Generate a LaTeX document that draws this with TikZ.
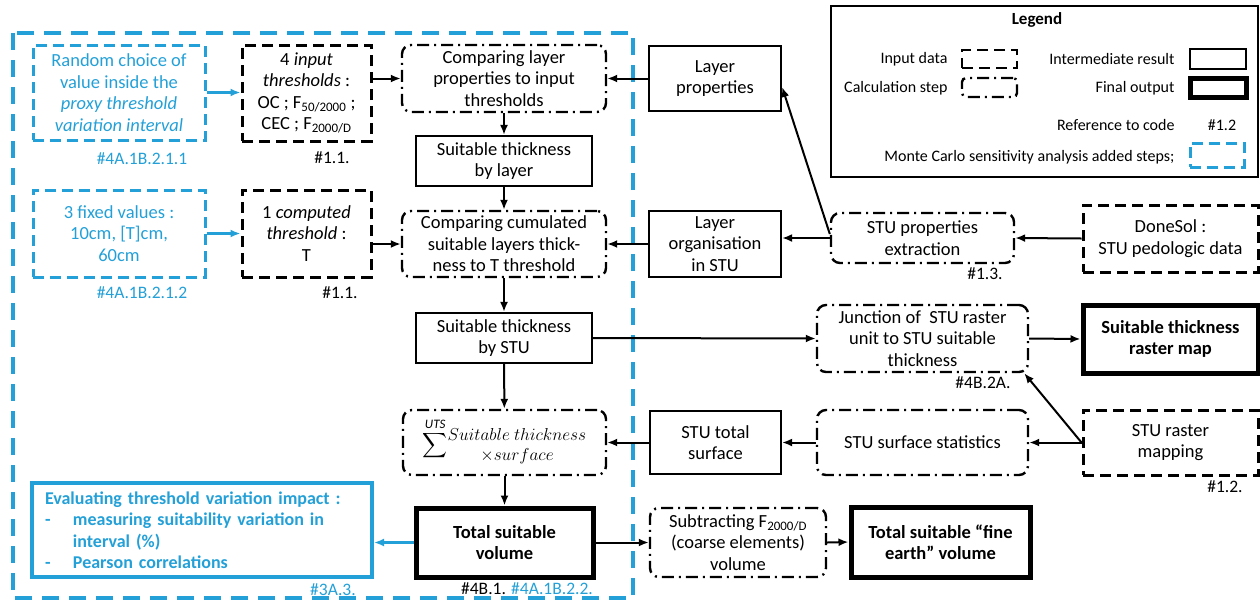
\documentclass[tikz,border=0pt]{standalone}
\usepackage{exscale}
\usepackage{fontspec}
\setmainfont{Carlito}
\usetikzlibrary{arrows.meta, calc, positioning}
\definecolor{mcblue}{RGB}{35,160,215}

\begin{document}
\begin{tikzpicture}[x=1pt, y=-1pt, >={Latex[length=10pt,width=8pt]},
    font=\fontsize{18.5}{21.5}\selectfont,
    box/.style={align=center, inner sep=2pt},
    input data/.style={box, draw, line width=3pt, dash pattern=on 11pt off 6pt},
    calc step/.style={box, draw, line width=2.4pt, rounded corners=9pt,
      dash pattern=on 12pt off 5pt on 2pt off 5pt},
    inter res/.style={box, draw, line width=2.2pt},
    final out/.style={box, draw, line width=5pt, font=\fontsize{18.5}{21.5}\selectfont\bfseries},
    mc data/.style={input data, draw=mcblue, text=mcblue},
    code ref/.style={font=\fontsize{17.5}{20}\selectfont},
    legend txt/.style={font=\fontsize{16}{19}\selectfont},
    conn/.style={->, line width=2pt},
    mc conn/.style={->, line width=2.4pt, mcblue}]
    \useasboundingbox (0,0) rectangle (1260,603);

    % Monte Carlo frame
    \draw[mcblue, line width=4pt, dash pattern=on 17pt off 10pt] (13,33) rectangle (633,598);

    % thresholds
    \node[mc data, minimum width=172, minimum height=95] (rand) at (119,92.5)
      {Random choice of\\value inside the\\\textit{proxy threshold}\\\textit{variation interval}};
    \node[input data, minimum width=129, minimum height=96] (inthr) at (306.5,93)
      {4 \textit{input}\\\textit{thresholds} :\\OC ; F\textsubscript{50/2000} ;\\CEC ; F\textsubscript{2000/D}};
    \node[mc data, minimum width=172, minimum height=87] (fixed) at (119,233.5)
      {3 fixed values :\\10cm, [T]cm,\\60cm};
    \node[input data, minimum width=129, minimum height=87] (compthr) at (306.5,233.5)
      {1 \textit{computed}\\\textit{threshold} :\\T};

    % main column
    \node[calc step, minimum width=204, minimum height=67] (cmplay) at (504,78.5)
      {Comparing layer\\properties to input\\thresholds};
    \node[inter res, minimum width=176, minimum height=50] (thklay) at (504,161)
      {Suitable thickness\\by layer};
    \node[calc step, minimum width=204, minimum height=66] (cmpcum) at (504,244)
      {Comparing cumulated\\suitable layers thick-\\ness to T threshold};
    \node[inter res, minimum width=176, minimum height=50] (thkstu) at (504,338)
      {Suitable thickness\\by STU};
    \node[calc step, minimum width=203, minimum height=65, inner sep=0pt] (sumbox) at (504.5,442.5)
      {$\displaystyle\sum^{\mathit{UTS}}$\begin{tabular}{@{}c@{}}$Suitable\ thickness$\\[-2pt]$\times surface$\end{tabular}};
    \node[final out, minimum width=177, minimum height=69] (totvol) at (504.5,542.5)
      {Total suitable\\volume};
    \node[draw=mcblue, text=mcblue, line width=4pt, minimum width=340, minimum height=94,
      text width=314, align=left, inner sep=0pt,
      font=\fontsize{18}{21.5}\selectfont\bfseries] (evalbox) at (202,530)
      {Evaluating threshold variation impact :\\
       \makebox[28pt][l]{-}measuring suitability variation in\\
       \hspace*{28pt}interval (\%)\\
       \makebox[28pt][l]{-}Pearson correlations};

    % soil data column
    \node[inter res, minimum width=132, minimum height=65] (layprop) at (715,78.5)
      {Layer\\properties};
    \node[inter res, minimum width=132, minimum height=66] (layorg) at (715,244)
      {Layer\\organisation\\in STU};
    \node[inter res, minimum width=131, minimum height=63] (totsurf) at (715.5,442.5)
      {STU total\\surface};
    \node[calc step, minimum width=176, minimum height=69] (subtr) at (738,542.5)
      {Subtracting F\textsubscript{2000/D}\\(coarse elements)\\volume};
    \node[calc step, minimum width=183, minimum height=50] (stuprop) at (922.5,238)
      {STU properties\\extraction};
    \node[calc step, minimum width=211, minimum height=67] (junct) at (922.5,338.5)
      {Junction of~~STU raster\\unit to STU suitable\\thickness};
    \node[calc step, minimum width=211, minimum height=65] (surfstat) at (922.5,442.5)
      {STU surface statistics};
    \node[final out, minimum width=179, minimum height=70] (fineearth) at (940.5,542)
      {Total suitable “fine\\earth” volume};
    \node[input data, minimum width=175, minimum height=67] (donesol) at (1170.5,238.5)
      {DoneSol :\\STU pedologic data};
    \node[final out, minimum width=175, minimum height=68] (rastermap) at (1170.5,339)
      {Suitable thickness\\raster map};
    \node[input data, minimum width=175, minimum height=65] (rastmapping) at (1170.5,442.5)
      {STU raster\\mapping};

    % references to code
    \node[code ref, text=mcblue] (ref-rand) at (142,159) {\#4A.1B.2.1.1};
    \node[code ref] (ref-inthr) at (332,158) {\#1.1.};
    \node[code ref, text=mcblue] (ref-fixed) at (142,293) {\#4A.1B.2.1.2};
    \node[code ref] (ref-compthr) at (340,293) {\#1.1.};
    \node[code ref] (ref-stuprop) at (985,274) {\#1.3.};
    \node[code ref] (ref-junct) at (983,383) {\#4B.2A.};
    \node[code ref] (ref-mapping) at (1225,487) {\#1.2.};
    \node[code ref, text=mcblue] (ref-eval) at (333,590) {\#3A.3.};
    \node[code ref] (ref-totvol) at (527,589) {\#4B.1. \textcolor{mcblue}{\#4A.1B.2.2.}};

    % connectors
    \draw[mc conn] (rand.east) -- (inthr.west |- rand.east);
    \draw[mc conn] (fixed.east) -- (compthr.west |- fixed.east);
    \draw[conn] (inthr.east |- cmplay) -- (cmplay.west);
    \draw[conn] (compthr.east |- cmpcum) -- (cmpcum.west);
    \draw[conn] (layprop.west) -- (cmplay.east);
    \draw[conn] (layorg.west) -- (cmpcum.east);
    \draw[conn] (cmplay) -- (thklay);
    \draw[conn] (thklay) -- (cmpcum);
    \draw[conn] (cmpcum) -- (thkstu);
    \draw[conn] (thkstu) -- (sumbox);
    \draw[conn] (sumbox) -- (totvol);
    \draw[conn] (stuprop.west) -- (layorg.east |- stuprop.west);
    \draw[conn] ([yshift=4]stuprop.west) -- ([yshift=-8.5]layprop.east);
    \draw[conn] (donesol.west) -- (stuprop.east);
    \draw[conn] (thkstu.east) -- (junct.west);
    \draw[conn] (junct.east) -- (rastermap.west);
    \draw[conn] (rastmapping.west) -- ([xshift=-5]junct.south east);
    \draw[conn] (rastmapping.west) -- (surfstat.east);
    \draw[conn] (surfstat.west) -- (totsurf.east);
    \draw[conn] (totsurf.west) -- (sumbox.east);
    \draw[mc conn] (totvol.west) -- (evalbox.east |- totvol.west);
    \draw[conn] (totvol.east) -- (subtr.west);
    \draw[conn] (subtr.east) -- (fineearth.west);

    % legend
    \node[draw, line width=2pt, minimum width=427, minimum height=171] (legend) at (1044.5,91.5) {};
    \node[legend txt, font=\fontsize{17}{20}\selectfont\bfseries] (lg-title) at (1037,20) {Legend};
    \node[legend txt, anchor=east] (lg-in) at (951,59) {Input data};
    \node[input data, line width=2.6pt, minimum width=55, minimum height=18] (lg-inbox) at (989.5,59) {};
    \node[legend txt, anchor=east] (lg-calc) at (951,88) {Calculation step};
    \node[calc step, rounded corners=4pt, minimum width=55, minimum height=19] (lg-calcbox) at (989.5,87.5) {};
    \node[legend txt, anchor=east] (lg-inter) at (1178,59) {Intermediate result};
    \node[inter res, minimum width=56, minimum height=20] (lg-interbox) at (1218,59) {};
    \node[legend txt, anchor=east] (lg-final) at (1178,88) {Final output};
    \node[final out, minimum width=56, minimum height=19] (lg-finalbox) at (1218,87.5) {};
    \node[legend txt, anchor=east] (lg-ref) at (1178,125) {Reference to code};
    \node[legend txt] (lg-refcode) at (1222,125) {\#1.2};
    \node[legend txt, anchor=east] (lg-mc) at (1178,157) {Monte Carlo sensitivity analysis added steps;};
    \node[mc data, minimum width=54, minimum height=24] (lg-mcbox) at (1217,155) {};
\end{tikzpicture}
\end{document}
